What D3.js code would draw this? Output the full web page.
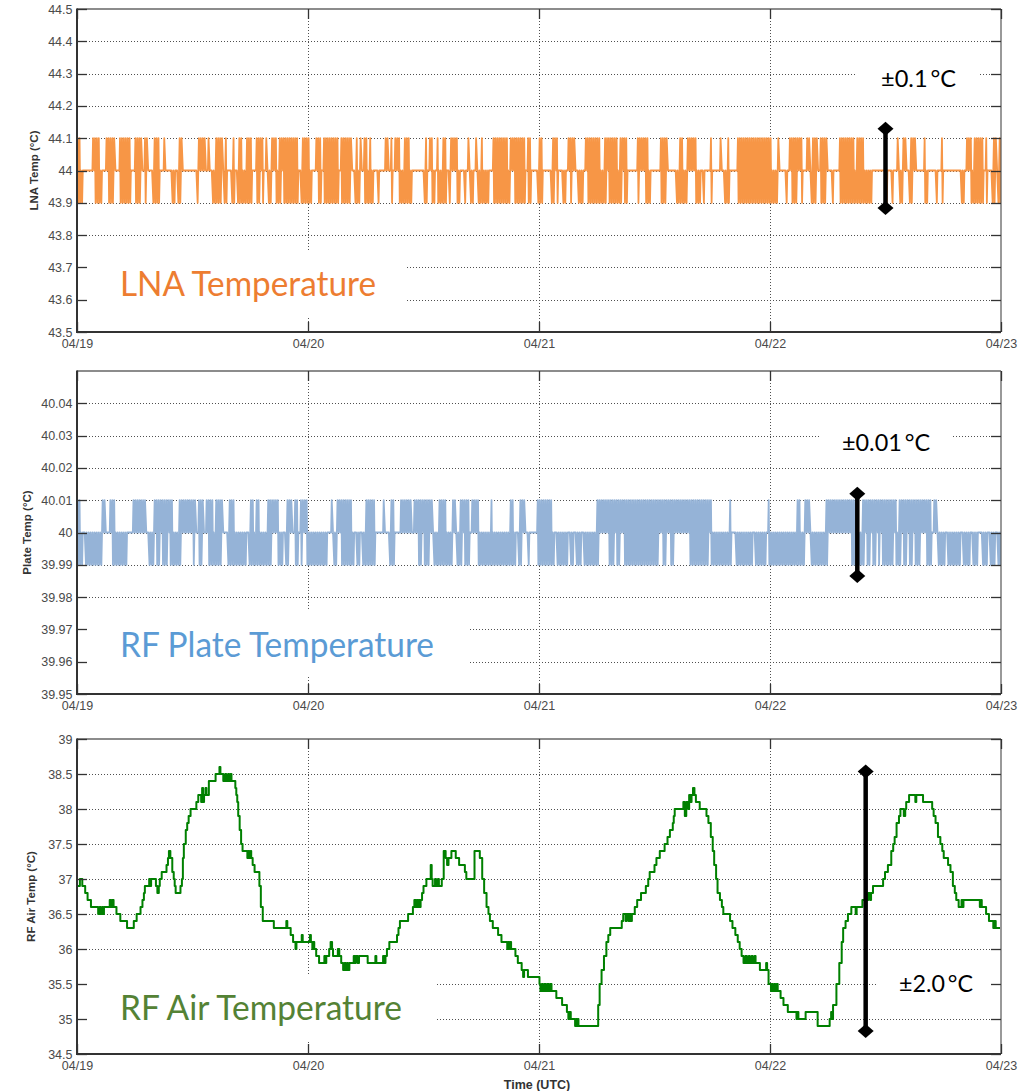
<!DOCTYPE html>
<html><head><meta charset="utf-8">
<script src="https://cdn.jsdelivr.net/npm/d3@7"></script>
<style>body{margin:0;background:#fff}svg{display:block}</style>
</head><body>
<svg id="chart" width="1033" height="1091"></svg>
<script>
// ---------------- DATA ----------------
const dayLabels = ["04/19","04/20","04/21","04/22","04/23"];
const lnaTicks = [43.5,43.6,43.7,43.8,43.9,44,44.1,44.2,44.3,44.4,44.5];
const plateTicks = [39.95,39.96,39.97,39.98,39.99,40,40.01,40.02,40.03,40.04];
const airTicks = [34.5,35,35.5,36,36.5,37,37.5,38,38.5,39];

// LNA temperature: base 44.0, excursions to 44.1 (up) / 43.9 (down), time windows in hours from 04/19 00:00
const lnaUp = [[0.1,0.2],[1.56,1.73],[2.08,2.25],[2.94,3.19],[3.46,3.81],[4.43,4.85],[5.02,5.37],[6.06,6.51],[6.93,7.17],[7.97,8.48],[9.0,9.0],[10.56,10.74],[12.54,13.16],[13.68,13.68],[14.48,15.06],[15.41,15.41],[16.28,16.28],[16.8,16.97],[17.59,18.01],[18.7,19.22],[19.57,19.57],[20.26,20.61],[20.95,22.86],[23.38,24.07],[24.76,25.28],[25.56,27.01],[27.36,27.71],[27.88,28.4],[28.92,28.92],[29.44,29.44],[29.78,29.96],[30.48,30.48],[32.03,32.21],[32.55,32.55],[33.07,33.42],[33.94,34.11],[34.46,34.46],[36.19,36.19],[36.54,36.88],[37.4,37.4],[37.92,38.27],[38.79,39.48],[40.52,40.52],[41.39,41.39],[42.08,42.08],[43.12,44.68],[45.02,45.37],[45.54,45.89],[46.06,46.41],[46.75,46.93],[47.97,48.25],[49.46,49.8],[51.0,51.36],[51.54,51.54],[52.75,53.1],[53.44,54.13],[54.83,55.35],[55.69,56.04],[56.38,57.08],[58.29,59.16],[60.54,61.23],[62.62,62.79],[63.31,64.18],[65.74,65.74],[66.77,66.77],[67.64,67.64],[68.68,69.54],[69.89,70.41],[70.58,70.93],[71.1,71.97],[72.84,72.84],[74.05,74.74],[75.09,75.26],[75.78,75.95],[76.47,76.82],[77.16,77.86],[79.24,80.63],[80.97,81.67],[85.13,85.13],[85.82,85.99],[86.69,87.03],[88.07,88.07],[89.8,89.8],[92.4,92.75],[93.27,93.96],[94.31,94.48],[95.17,95.35],[95.87,96]];
const lnaDown = [[0,0.35],[1.73,1.9],[2.15,2.15],[2.42,2.42],[3.29,3.64],[4.5,5.37],[6.06,6.34],[6.93,6.93],[7.9,8.31],[9.87,10.04],[10.39,10.56],[12.47,12.47],[14.03,14.72],[15.24,15.41],[15.93,16.28],[16.62,16.97],[17.14,17.14],[17.49,18.01],[18.53,18.87],[19.22,19.22],[19.74,20.09],[20.61,20.95],[21.47,22.86],[23.2,24.24],[24.94,25.28],[25.63,27.01],[27.36,27.71],[27.98,28.23],[28.74,28.92],[29.26,29.26],[29.78,30.13],[30.48,30.65],[31.17,31.17],[32.55,32.55],[33.42,34.63],[36.02,36.19],[36.71,37.06],[37.4,37.75],[38.1,38.1],[38.61,38.61],[39.48,39.65],[40.17,40.17],[40.87,41.04],[41.56,41.9],[42.25,42.6],[43.12,44.85],[45.37,45.71],[46.06,46.41],[46.75,46.93],[47.9,48.25],[49.29,49.46],[49.8,49.8],[50.5,50.67],[51.19,51.19],[52.06,52.4],[53.1,54.13],[54.48,54.83],[55.17,55.35],[55.69,56.38],[56.73,57.08],[58.12,58.12],[58.98,59.33],[60.54,60.71],[61.06,61.06],[62.27,63.14],[64.18,64.52],[65.04,65.04],[65.74,65.74],[67.29,67.64],[68.68,70.24],[70.41,72.14],[72.49,72.66],[73.53,73.53],[74.22,74.57],[75.26,75.26],[76.13,76.64],[77.16,77.68],[78.38,78.38],[79.24,81.15],[81.32,82.36],[84.09,84.09],[84.61,84.61],[85.48,85.65],[86.34,86.51],[88.07,88.25],[89.11,89.28],[89.8,89.8],[91.71,92.06],[92.75,92.75],[93.1,93.96],[94.31,94.48],[95.0,95.17],[95.69,96]];

// RF plate temperature: base 40.00, excursions to 40.01 / 39.99
const plateUp = [[0,0.17],[2.6,2.77],[3.46,3.74],[5.71,6.93],[7.97,8.14],[8.48,9.0],[9.18,9.7],[10.56,12.29],[12.64,12.99],[13.33,14.03],[14.37,14.55],[14.82,15.06],[15.76,16.1],[18.01,18.18],[18.53,18.7],[19.74,19.91],[20.26,20.78],[21.82,22.16],[22.51,22.86],[23.2,23.55],[23.83,23.83],[26.32,26.49],[27.01,27.36],[27.64,28.47],[29.96,30.82],[31.86,31.86],[32.55,32.73],[33.59,34.63],[34.98,35.5],[35.84,36.88],[37.58,37.75],[38.1,38.27],[38.96,39.13],[39.83,40.52],[41.04,41.56],[42.94,42.94],[45.02,45.19],[46.06,46.41],[47.79,47.97],[48.25,49.29],[53.96,56.04],[56.21,57.18],[57.42,59.33],[59.5,60.71],[60.89,64.0],[64.18,65.74],[67.81,67.81],[71.8,71.8],[74.74,74.91],[75.61,75.61],[75.78,75.95],[77.86,80.8],[81.67,84.96],[85.48,85.99],[86.17,88.59],[88.94,89.28]];
const plateDown = [[0,0.35],[0.87,2.42],[3.64,5.02],[7.45,7.79],[8.14,8.31],[8.83,9.18],[9.7,10.56],[11.95,11.95],[12.64,12.81],[13.51,14.03],[14.2,14.55],[14.89,14.89],[15.58,17.32],[17.84,18.01],[18.18,20.09],[20.78,21.13],[21.65,21.82],[22.51,22.86],[23.2,23.2],[23.83,25.8],[26.67,26.84],[27.36,27.71],[28.05,28.57],[29.09,29.26],[29.61,30.13],[30.48,30.82],[32.38,32.73],[35.32,35.5],[36.02,36.36],[37.06,38.1],[38.44,38.79],[39.48,39.83],[40.17,40.69],[41.56,42.94],[43.29,44.68],[44.85,45.37],[45.71,46.06],[46.75,46.75],[47.79,49.46],[49.8,50.15],[50.5,50.84],[51.19,51.36],[51.88,52.23],[52.58,52.75],[52.92,53.27],[53.44,53.96],[55.17,55.52],[56.04,56.21],[56.9,57.6],[57.77,58.12],[58.46,59.33],[59.68,60.19],[60.71,61.06],[61.58,61.75],[63.66,65.39],[65.74,67.81],[68.33,70.06],[70.41,70.76],[70.93,71.45],[71.8,73.35],[73.53,74.57],[74.74,75.43],[76.3,77.86],[80.45,80.63],[80.97,81.15],[81.49,81.67],[82.01,82.19],[82.53,82.88],[83.22,83.22],[83.57,83.92],[84.09,84.61],[84.96,85.3],[85.82,85.99],[86.34,86.51],[87.03,87.38],[88.25,88.59],[89.46,89.98],[90.5,91.54],[92.06,92.58],[92.92,93.44],[93.96,94.31],[94.83,95.17],[95.69,96]];

// RF air temperature: [hour, °C] (value held until next reading)
const airSeries = [[0,36.9],[0.3,37.0],[0.55,36.9],[0.85,36.8],[1.1,36.7],[1.45,36.6],[2.2,36.5],[2.35,36.6],[2.45,36.5],[2.6,36.6],[2.7,36.5],[2.8,36.6],[3.4,36.7],[3.55,36.6],[3.65,36.7],[3.8,36.6],[4.1,36.5],[4.5,36.4],[5.2,36.3],[5.9,36.4],[6.2,36.5],[6.6,36.6],[6.8,36.7],[6.95,36.8],[7.05,36.9],[7.5,37.0],[7.6,36.9],[7.7,37.0],[8.2,36.9],[8.35,36.8],[8.5,36.9],[8.6,37.0],[8.8,37.1],[9.3,37.2],[9.45,37.3],[9.55,37.4],[9.7,37.3],[9.9,37.1],[10.05,37.0],[10.15,36.9],[10.25,36.8],[10.75,36.9],[10.9,37.0],[11.0,37.3],[11.1,37.5],[11.3,37.7],[11.45,37.8],[11.6,37.9],[11.8,38.0],[12.4,38.1],[12.6,38.2],[12.9,38.1],[13.0,38.3],[13.1,38.1],[13.2,38.2],[13.35,38.3],[13.45,38.2],[13.7,38.4],[14.4,38.5],[14.8,38.6],[14.9,38.5],[15.2,38.4],[15.4,38.5],[15.5,38.4],[15.7,38.5],[15.8,38.4],[15.95,38.5],[16.05,38.4],[16.45,38.3],[16.55,38.2],[16.65,38.1],[16.75,37.9],[16.9,37.7],[17.05,37.5],[17.2,37.4],[17.7,37.3],[17.8,37.4],[17.9,37.3],[18.05,37.4],[18.1,37.3],[18.25,37.2],[18.45,37.1],[18.95,36.9],[19.1,36.6],[19.3,36.4],[20.45,36.3],[21.75,36.4],[21.85,36.3],[22.2,36.2],[22.45,36.1],[22.7,36.0],[22.8,36.1],[23.35,36.2],[23.45,36.1],[24.2,36.2],[24.3,36.1],[24.45,36.0],[24.55,36.1],[24.65,36.0],[24.85,35.9],[25.15,35.8],[25.7,35.9],[25.8,35.8],[25.9,35.9],[26.2,36.0],[26.35,36.1],[26.5,36.0],[26.6,35.9],[27.1,36.0],[27.25,35.9],[27.45,35.8],[27.65,35.7],[27.8,35.8],[27.9,35.7],[28.05,35.8],[28.15,35.7],[28.3,35.8],[28.75,35.9],[28.85,35.8],[28.95,35.9],[29.15,35.8],[29.3,35.9],[30.2,35.8],[31.0,35.9],[31.1,35.8],[31.8,35.9],[31.95,35.8],[32.05,35.9],[32.2,36.0],[32.45,36.1],[33.25,36.2],[33.4,36.3],[33.55,36.4],[34.4,36.5],[34.9,36.6],[35.05,36.7],[35.2,36.6],[35.3,36.7],[35.4,36.6],[35.5,36.7],[35.6,36.6],[35.7,36.7],[35.85,36.8],[36.0,36.9],[36.3,37.0],[36.75,37.2],[36.85,37.0],[36.95,36.9],[37.2,37.0],[37.3,36.9],[37.5,37.0],[37.6,36.9],[37.9,37.0],[38.1,37.4],[38.3,37.3],[38.45,37.2],[38.6,37.3],[38.9,37.4],[39.35,37.3],[39.7,37.2],[40.3,37.1],[40.45,37.0],[41.3,37.4],[41.85,37.3],[42.1,37.0],[42.3,36.8],[42.55,36.6],[42.75,36.5],[42.9,36.4],[43.2,36.3],[43.75,36.2],[44.1,36.1],[44.7,36.0],[44.8,36.1],[44.9,36.0],[45.0,36.1],[45.1,36.0],[45.55,35.9],[45.8,35.8],[46.2,35.7],[46.35,35.6],[46.45,35.7],[46.85,35.6],[48.05,35.5],[48.15,35.4],[48.3,35.5],[48.4,35.4],[48.55,35.5],[48.7,35.4],[48.85,35.5],[49.0,35.4],[49.15,35.5],[49.3,35.4],[49.8,35.3],[50.4,35.2],[50.9,35.1],[51.05,35.0],[51.15,35.1],[51.3,35.0],[51.75,34.9],[51.85,35.0],[51.95,34.9],[52.05,35.0],[52.1,34.9],[54.15,35.2],[54.3,35.5],[54.5,35.7],[54.75,35.9],[55.0,36.1],[55.2,36.2],[55.4,36.3],[56.6,36.4],[56.75,36.5],[57.0,36.4],[57.1,36.5],[57.3,36.4],[57.4,36.5],[57.55,36.4],[57.65,36.5],[57.95,36.6],[58.2,36.7],[58.6,36.8],[59.1,36.9],[59.35,37.0],[59.5,37.1],[60.0,37.2],[60.2,37.3],[60.55,37.4],[61.05,37.5],[61.35,37.6],[61.6,37.7],[61.9,37.8],[62.0,37.9],[62.1,38.0],[63.0,38.1],[63.15,37.9],[63.3,38.1],[63.5,38.0],[63.6,38.2],[63.75,38.1],[63.85,38.2],[64.0,38.3],[64.15,38.2],[64.3,38.1],[64.7,38.0],[65.4,37.9],[65.6,37.8],[65.85,37.6],[66.05,37.4],[66.2,37.2],[66.4,37.0],[66.55,36.8],[66.8,36.7],[67.0,36.6],[67.15,36.5],[67.85,36.4],[68.1,36.3],[68.4,36.2],[68.65,36.1],[68.85,36.0],[69.05,35.9],[69.25,35.8],[69.45,35.9],[69.6,35.8],[69.8,35.9],[69.9,35.8],[70.1,35.9],[70.2,35.8],[70.4,35.9],[70.5,35.8],[70.95,35.7],[71.6,35.8],[71.7,35.7],[71.85,35.5],[72.1,35.4],[72.2,35.5],[72.3,35.4],[72.45,35.5],[72.55,35.4],[72.7,35.5],[72.8,35.4],[73.1,35.3],[73.4,35.2],[73.85,35.1],[74.75,35.0],[74.85,35.1],[74.95,35.0],[75.7,35.1],[76.95,34.9],[78.2,35.0],[78.35,35.1],[78.45,35.0],[78.55,35.2],[78.9,35.5],[79.2,35.8],[79.45,36.1],[79.6,36.3],[79.85,36.4],[80.1,36.5],[80.45,36.6],[80.9,36.5],[81.0,36.6],[81.6,36.7],[82.2,36.8],[82.4,36.7],[82.5,36.8],[82.7,36.9],[83.75,37.0],[83.95,37.1],[84.25,37.2],[84.6,37.4],[84.8,37.5],[84.95,37.6],[85.15,37.8],[85.4,37.9],[85.55,38.0],[85.9,37.9],[86.05,38.0],[86.15,38.1],[86.45,38.2],[87.1,38.1],[87.2,38.2],[87.9,38.1],[88.85,38.0],[89.0,37.9],[89.2,37.8],[89.45,37.6],[89.7,37.5],[89.9,37.4],[90.05,37.3],[90.5,37.2],[90.75,37.1],[91.0,36.9],[91.2,36.8],[91.35,36.7],[91.6,36.6],[91.9,36.7],[92.0,36.6],[92.1,36.7],[93.8,36.6],[93.9,36.7],[94.0,36.6],[94.45,36.5],[94.75,36.4],[95.2,36.3],[95.3,36.4],[95.45,36.3],[95.9,36.3]];

// range bars: [hour, low, high]
const lnaBar = [84.0, 43.884, 44.129];
const plateBar = [81.07, 39.9865, 40.012];
const airBar = [81.94, 34.83, 38.536];
const panelTitles = ["LNA Temperature","RF Plate Temperature","RF Air Temperature"];
const rangeTexts = ["\u00B10.1\u2009\u00B0C","\u00B10.01\u2009\u00B0C","\u00B12.0\u2009\u00B0C"];
const yTitles = ["LNA Temp (\u00B0C)","Plate Temp (\u00B0C)","RF Air Temp (\u00B0C)"];

// ---------------- DRAWING ----------------
const svg = d3.select("#chart");
const START = Date.UTC(2020,3,19);
const toDate = h => new Date(START + h*3600000);
const L = 77, R = 1001;
const x = d3.scaleUtc().domain([toDate(0), toDate(96)]).range([L, R]);
const dayDates = dayLabels.map((d,i)=>toDate(24*i));

function toggleSeries(base, upV, dnV, upIv, dnIv){
  const pts = [];
  const inIv = (t, iv) => iv.some(([a,b]) => t >= a-0.101 && t <= b+0.101);
  for (let i=0;i<=480;i++){
    const t = i*0.2;
    pts.push([t, base]);
    if (inIv(t, upIv)) pts.push([t+0.066, upV]);
    if (inIv(t, dnIv)) pts.push([t+0.133, dnV]);
  }
  return pts;
}

const panels = [
  {top:9, bottom:332, dom:[43.5,44.5], ticks:lnaTicks, fmt:d3.format(""),
   series:toggleSeries(44.0,44.1,43.9,lnaUp,lnaDown), color:"#F79646", width:1.8, step:false,
   title:panelTitles[0], tcol:"#ED7D31", tx:120, tb:296, tw:256,
   box:[88,250,405,316], rbox:[857,55,980,95], rtext:rangeTexts[0], rx:881, rb:86.7, rw:75,
   bar:lnaBar, ytitle:yTitles[0], ytx:34},
  {top:371, bottom:694, dom:[39.95,40.05], ticks:plateTicks, fmt:d3.format(""),
   series:toggleSeries(40.0,40.01,39.99,plateUp,plateDown), color:"#95B3D7", width:1.8, step:false,
   title:panelTitles[1], tcol:"#5B9BD5", tx:120, tb:657, tw:314,
   box:[88,610,470,676], rbox:[820,418,953,455], rtext:rangeTexts[1], rx:842, rb:450.7, rw:88,
   bar:plateBar, ytitle:yTitles[1], ytx:27},
  {top:739, bottom:1054, dom:[34.5,39], ticks:airTicks, fmt:d3.format(""),
   series:airSeries, color:"#008000", width:2, step:true,
   title:panelTitles[2], tcol:"#548235", tx:120, tb:1020, tw:282,
   box:[88,975,435,1042], rbox:[877,962,990,1005], rtext:rangeTexts[2], rx:899, rb:991.7, rw:74,
   bar:airBar, ytitle:yTitles[2], ytx:31}
];

panels.forEach((p, pi) => {
  const y = d3.scaleLinear().domain(p.dom).range([p.bottom, p.top]);
  const g = svg.append("g");
  const clipId = "clip"+pi;
  svg.append("clipPath").attr("id", clipId).append("rect")
    .attr("x", L).attr("y", p.top).attr("width", R-L).attr("height", p.bottom-p.top);

  // grid
  const grid = g.append("g").attr("stroke","#505050").attr("stroke-width",1).attr("stroke-dasharray","1,2");
  p.ticks.filter(t => y(t) > p.top+1 && y(t) < p.bottom-1).forEach(t => {
    grid.append("line").attr("x1",L).attr("x2",R).attr("y1",Math.round(y(t))+0.5).attr("y2",Math.round(y(t))+0.5);
  });
  dayDates.slice(1,-1).forEach(d => {
    grid.append("line").attr("x1",Math.round(x(d))+0.5).attr("x2",Math.round(x(d))+0.5).attr("y1",p.top).attr("y2",p.bottom);
  });

  // white label boxes
  [p.box, p.rbox].forEach(b => g.append("rect").attr("x",b[0]).attr("y",b[1])
    .attr("width",b[2]-b[0]).attr("height",b[3]-b[1]).attr("fill","#fff"));

  // data
  const line = d3.line().x(d => x(toDate(d[0]))).y(d => y(d[1]));
  if (p.step) line.curve(d3.curveStepAfter);
  g.append("path").datum(p.series).attr("d", line).attr("clip-path", `url(#${clipId})`)
    .attr("fill","none").attr("stroke",p.color).attr("stroke-width",p.width)
    .attr("stroke-linejoin","round");

  // frame
  g.append("line").attr("x1",L).attr("x2",R).attr("y1",p.top).attr("y2",p.top).attr("stroke","#666").attr("stroke-width",1.5);
  g.append("line").attr("x1",R).attr("x2",R).attr("y1",p.top).attr("y2",p.bottom).attr("stroke","#555").attr("stroke-width",1.2);
  g.append("line").attr("x1",L).attr("x2",L).attr("y1",p.top-0.5).attr("y2",p.bottom+1).attr("stroke","#333").attr("stroke-width",2);
  g.append("line").attr("x1",L).attr("x2",R).attr("y1",p.bottom).attr("y2",p.bottom).attr("stroke","#333").attr("stroke-width",2);

  // ticks (inward on all sides)
  const tk = g.append("g").attr("stroke","#333").attr("stroke-width",1.3);
  p.ticks.forEach(t => {
    const yy = Math.round(y(t))+0.5;
    tk.append("line").attr("x1",L).attr("x2",L+10).attr("y1",yy).attr("y2",yy);
    tk.append("line").attr("x1",R-10).attr("x2",R).attr("y1",yy).attr("y2",yy);
  });
  dayDates.forEach(d => {
    const xx = Math.round(x(d))+0.5;
    tk.append("line").attr("x1",xx).attr("x2",xx).attr("y1",p.bottom-10).attr("y2",p.bottom);
    tk.append("line").attr("x1",xx).attr("x2",xx).attr("y1",p.top).attr("y2",p.top+10);
  });

  // y tick labels via axis
  const ya = d3.axisLeft(y).tickValues(p.ticks).tickFormat(p.fmt).tickSize(0).tickPadding(4.5);
  const yg = g.append("g").attr("transform",`translate(${L},0)`).call(ya);
  yg.select(".domain").remove();
  yg.selectAll("text").attr("font-family","'Liberation Sans', Arial, sans-serif").attr("font-size",12.5).attr("fill","#4a4a4a");

  // x tick labels
  const xa = d3.axisBottom(x).tickValues(dayDates).tickFormat((d,i)=>dayLabels[i]).tickSize(0).tickPadding(7);
  const xg = g.append("g").attr("transform",`translate(0,${p.bottom})`).call(xa);
  xg.select(".domain").remove();
  xg.selectAll("text").attr("font-family","'Liberation Sans', Arial, sans-serif").attr("font-size",12.5).attr("fill","#4a4a4a");

  // y title
  g.append("text").attr("transform",`translate(${p.ytx},${(p.top+p.bottom)/2}) rotate(-90)`)
    .attr("text-anchor","middle").attr("dominant-baseline","central")
    .attr("font-family","'Liberation Sans', Arial, sans-serif").attr("font-weight","bold")
    .attr("font-size",11.5).attr("fill","#333").text(p.ytitle);

  // panel title
  g.append("text").attr("x",p.tx).attr("y",p.tb).attr("fill",p.tcol)
    .attr("font-family","Lato, 'Open Sans', sans-serif").attr("font-size",34)
    .attr("textLength",p.tw).attr("lengthAdjust","spacingAndGlyphs").text(p.title);

  // range bar
  const bx = x(toDate(p.bar[0])), by1 = y(p.bar[1]), by2 = y(p.bar[2]);
  g.append("line").attr("x1",bx).attr("x2",bx).attr("y1",by1).attr("y2",by2).attr("stroke","#000").attr("stroke-width",4.5);
  [by1,by2].forEach(cy => g.append("path")
    .attr("d",`M${bx},${cy-7}L${bx+8},${cy}L${bx},${cy+7}L${bx-8},${cy}Z`).attr("fill","#000"));
  g.append("text").attr("x",p.rx).attr("y",p.rb).attr("fill","#000")
    .attr("font-family","Lato, 'Open Sans', sans-serif").attr("font-size",24)
    .attr("textLength",p.rw).attr("lengthAdjust","spacingAndGlyphs").text(p.rtext);
});

svg.append("text").attr("x",537).attr("y",1089).attr("text-anchor","middle")
  .attr("font-family","'Liberation Sans', Arial, sans-serif").attr("font-weight","bold")
  .attr("font-size",12.5).attr("fill","#333").text("Time (UTC)");
</script>
</body></html>
